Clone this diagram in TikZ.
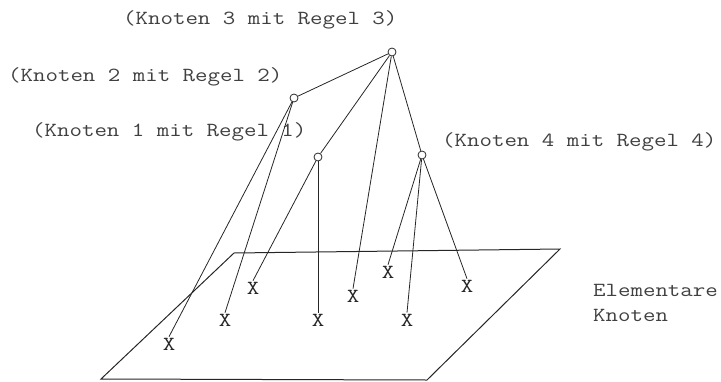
\documentclass[tikz,border=0pt]{standalone}
\usepackage{graphicx}
% wide typewriter lettering
\newcommand\widetype[1]{\scalebox{1.21}[1]{#1}}
\begin{document}
\begin{tikzpicture}[x=1pt,y=-1pt,
  ink/.style={draw=black!85, line width=0.8pt},
  typewriter/.style={font=\ttfamily\fontsize{20}{25}\selectfont,
    text=black!75, inner sep=0pt},
  rule/.style={circle, ink, minimum size=8pt, inner sep=0pt},
  elem/.style={typewriter, text=black!85, inner sep=1pt},
  label/.style={typewriter, anchor=west}]
\useasboundingbox (0,0) rectangle (721,381);

% plane of elementary nodes
\coordinate (p1) at (101,379);
\coordinate (p2) at (427,380);
\coordinate (p3) at (560,249);
\coordinate (p4) at (234,253);
\draw[ink, line width=1pt] (p1) -- (p2) -- (p3) -- (p4) -- cycle;

% rule nodes
\node[rule] (n3) at (392,52) {};
\node[rule] (n2) at (294,98) {};
\node[rule] (n1) at (318,157) {};
\node[rule] (n4) at (422,155) {};

% elementary nodes
\node[elem] (x1) at (169,344) {\widetype{X}};
\node[elem] (x2) at (225,320) {\widetype{X}};
\node[elem] (x3) at (253,288) {\widetype{X}};
\node[elem] (x4) at (318,320) {\widetype{X}};
\node[elem] (x5) at (353,296) {\widetype{X}};
\node[elem] (x6) at (388,272) {\widetype{X}};
\node[elem] (x7) at (407,320) {\widetype{X}};
\node[elem] (x8) at (467,286) {\widetype{X}};

% tree edges
\draw[ink] (n3) -- (n2);
\draw[ink] (n3) -- (n1);
\draw[ink] (n3) -- (x5.north);
\draw[ink] (n3) -- (n4);
\draw[ink] (n2) -- (x1.north);
\draw[ink] (n2) -- (x2.north);
\draw[ink] (n1) -- (x3.north);
\draw[ink] (n1) -- (x4.north);
\draw[ink] (n4) -- (x6.north);
\draw[ink] (n4) -- (x7.north);
\draw[ink] (n4) -- (x8.north);

% labels
\node[label] (l3) at (123,20) {\widetype{(Knoten 3 mit Regel 3)}};
\node[label] (l2) at (8,77) {\widetype{(Knoten 2 mit Regel 2)}};
\node[label] (l1) at (32,132) {\widetype{(Knoten 1 mit Regel 1)}};
\node[label] (l4) at (442,142) {\widetype{(Knoten 4 mit Regel 4)}};
\node[label] (le1) at (593,290) {\widetype{Elementare}};
\node[label] (le2) at (593,315) {\widetype{Knoten}};
\end{tikzpicture}
\end{document}
